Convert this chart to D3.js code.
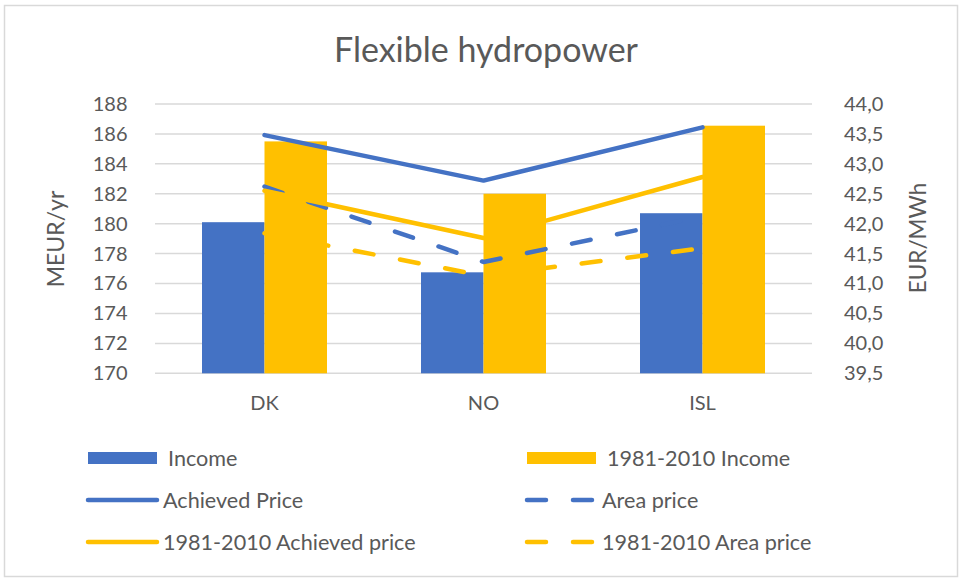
<!DOCTYPE html>
<html>
<head>
<meta charset="utf-8">
<script src="https://cdn.jsdelivr.net/npm/d3@7"></script>
<style>
  body { margin: 0; background: #fff; }
  text { font-family: Lato, "Open Sans", sans-serif; fill: #595959; }
</style>
</head>
<body>
<div id="chart"></div>
<script>
var svgWidth = 962;
var svgHeight = 581;

var margin = { top: 104, right: 150, bottom: 208, left: 155 };

// data
var categories = ["DK", "NO", "ISL"];
var income = [180.1, 176.75, 180.7];
var income8110 = [185.5, 182.0, 186.55];
var achievedPrice = [43.48, 42.72, 43.61];
var areaPrice = [42.62, 41.36, 42.12];
var achieved8110 = [42.55, 41.76, 42.78];
var area8110 = [41.84, 41.13, 41.59];

var leftTicks = [170, 172, 174, 176, 178, 180, 182, 184, 186, 188];
var rightTicks = [39.5, 40, 40.5, 41, 41.5, 42, 42.5, 43, 43.5, 44];

var barSeries = [
  { name: "Income", values: income, color: "#4472C4" },
  { name: "1981-2010 Income", values: income8110, color: "#FFC000" }
];
var lineSeries = [
  { name: "Achieved Price", values: achievedPrice, color: "#4472C4", dashed: false },
  { name: "Area price", values: areaPrice, color: "#4472C4", dashed: true },
  { name: "1981-2010 Achieved price", values: achieved8110, color: "#FFC000", dashed: false },
  { name: "1981-2010 Area price", values: area8110, color: "#FFC000", dashed: true }
];

var plotW = 812 - margin.left;
var plotTop = 104, plotBottom = 373.3;

var svg = d3.select("#chart").append("svg")
  .attr("width", svgWidth)
  .attr("height", svgHeight);

// outer border
svg.append("rect")
  .attr("x", 4.5).attr("y", 5.5)
  .attr("width", 953).attr("height", 571)
  .attr("fill", "#fff")
  .attr("stroke", "#d9d9d9")
  .attr("stroke-width", 1.5);

// title
svg.append("text")
  .attr("x", 486).attr("y", 62)
  .attr("text-anchor", "middle")
  .style("font-size", "34px")
  .text("Flexible hydropower");

// scales
var x = d3.scaleBand()
  .domain(categories)
  .range([margin.left, margin.left + plotW]);

var xInner = d3.scaleBand()
  .domain(barSeries.map(s => s.name))
  .range([0, x.bandwidth()])
  .paddingOuter(0.752);

var yLeft = d3.scaleLinear().domain([170, 188]).range([plotBottom, plotTop]);
var yRight = d3.scaleLinear().domain([39.5, 44]).range([plotBottom, plotTop]);

var commaLocale = d3.formatLocale({ decimal: ",", thousands: ".", grouping: [3], currency: ["", "€"] });
var fmtRight = commaLocale.format(".1f");

// gridlines
svg.append("g").selectAll("line")
  .data(leftTicks)
  .enter()
  .append("line")
  .attr("x1", margin.left).attr("x2", margin.left + plotW)
  .attr("y1", d => yLeft(d)).attr("y2", d => yLeft(d))
  .attr("stroke", "#d9d9d9")
  .attr("stroke-width", 1.5);

// axes
var leftAxis = svg.append("g")
  .attr("transform", `translate(${margin.left}, 0)`)
  .call(d3.axisLeft(yLeft).tickValues(leftTicks).tickSize(0).tickPadding(27.5));

var rightAxis = svg.append("g")
  .attr("transform", `translate(${margin.left + plotW}, 0)`)
  .call(d3.axisRight(yRight).tickValues(rightTicks).tickSize(0).tickPadding(32).tickFormat(fmtRight));

var bottomAxis = svg.append("g")
  .attr("transform", `translate(0, ${plotBottom})`)
  .call(d3.axisBottom(x).tickSize(0).tickPadding(23));

[leftAxis, rightAxis, bottomAxis].forEach(g => {
  g.select(".domain").remove();
  g.selectAll("text")
    .style("font-family", "Lato, 'Open Sans', sans-serif")
    .style("font-size", "20px")
    .attr("fill", "#595959");
});

// axis titles
svg.append("text")
  .attr("transform", `translate(64, 239) rotate(-90)`)
  .attr("text-anchor", "middle")
  .style("font-size", "23px")
  .text("MEUR/yr");

svg.append("text")
  .attr("transform", `translate(926, 238) rotate(-90)`)
  .attr("text-anchor", "middle")
  .style("font-size", "22.5px")
  .text("EUR/MWh");

// bars
var barGroups = svg.append("g").selectAll("g")
  .data(barSeries)
  .enter()
  .append("g")
  .attr("fill", d => d.color);

barGroups.selectAll("rect")
  .data(s => s.values.map((v, i) => ({ name: s.name, cat: categories[i], value: v })))
  .enter()
  .append("rect")
  .attr("x", d => x(d.cat) + xInner(d.name))
  .attr("width", xInner.bandwidth())
  .attr("y", d => yLeft(d.value))
  .attr("height", d => plotBottom - yLeft(d.value));

// lines
var line = d3.line()
  .x((d, i) => x(categories[i]) + x.bandwidth() / 2)
  .y(d => yRight(d));

svg.append("g").selectAll("path")
  .data(lineSeries)
  .enter()
  .append("path")
  .attr("d", d => line(d.values))
  .attr("fill", "none")
  .attr("stroke", d => d.color)
  .attr("stroke-width", 4.5)
  .attr("stroke-linecap", "round")
  .attr("stroke-linejoin", "round")
  .attr("stroke-dasharray", d => d.dashed ? "19,27" : null);

// legend
var legendItems = barSeries.map(s => ({ name: s.name, color: s.color, type: "bar" }))
  .concat(lineSeries.map(s => ({ name: s.name, color: s.color, type: s.dashed ? "dash" : "line" })));

var legend = svg.append("g").selectAll("g")
  .data(legendItems)
  .enter()
  .append("g")
  .attr("transform", (d, i) => `translate(${i % 2 === 0 ? 88 : 527}, ${458 + Math.floor(i / 2) * 42})`);

legend.filter(d => d.type === "bar").append("rect")
  .attr("x", 0).attr("y", -6)
  .attr("width", 69).attr("height", 12)
  .attr("fill", d => d.color);

legend.filter(d => d.type !== "bar").append("line")
  .attr("x1", 0).attr("x2", 69)
  .attr("y1", 0).attr("y2", 0)
  .attr("stroke", d => d.color)
  .attr("stroke-width", 4.5)
  .attr("stroke-linecap", "round")
  .attr("stroke-dasharray", d => d.type === "dash" ? "19,27" : null);

legend.append("text")
  .attr("x", d => d.type === "bar" ? 80 : 75)
  .attr("y", 0)
  .attr("dy", "0.35em")
  .style("font-size", "21.6px")
  .text(d => d.name);
</script>
</body>
</html>
